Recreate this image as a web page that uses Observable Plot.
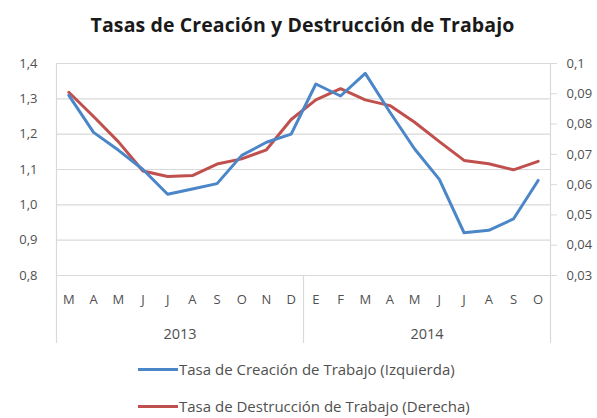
<!DOCTYPE html>
<html>
<head>
<meta charset="utf-8">
<script src="https://cdn.jsdelivr.net/npm/d3@7"></script>
<script src="https://cdn.jsdelivr.net/npm/@observablehq/plot@0.6"></script>
<style>
  body { margin: 0; background: #fff; font-family: "Open Sans", sans-serif; }
  #wrap { width: 597px; height: 418px; position: relative; overflow: hidden; }
  #title { height: 45px; line-height: 50px; text-align: center; font-weight: bold; font-size: 19.5px; color: #1a1a1a; padding-left: 8px; letter-spacing: 0.1px; }
  .leg { position: absolute; left: 138px; display: flex; align-items: center; font-size: 15px; color: #505050; }
  .sw { width: 40px; height: 3px; margin-right: 1px; }
</style>
</head>
<body>
<div id="wrap">
  <div id="title">Tasas de Creación y Destrucción de Trabajo</div>
  <div id="chart"></div>
  <div class="leg" id="leg1" style="top:359px"><div class="sw" style="background:#4a86c8"></div><span>Tasa de Creación de Trabajo (Izquierda)</span></div>
  <div class="leg" id="leg2" style="top:396px"><div class="sw" style="background:#c0504d"></div><span>Tasa de Destrucción de Trabajo (Derecha)</span></div>
</div>
<script>
const months = ["M","A","M","J","J","A","S","O","N","D","E","F","M","A","M","J","J","A","S","O"];
const years = ["2013", "2014"];
const creacion = [1.31, 1.205, 1.155, 1.10, 1.03, 1.045, 1.06, 1.14, 1.177, 1.20, 1.342, 1.308, 1.372, 1.262, 1.158, 1.072, 0.921, 0.928, 0.96, 1.069];
const destruccion = [0.0905, 0.0825, 0.0742, 0.0645, 0.0627, 0.063, 0.0668, 0.0685, 0.0715, 0.0815, 0.088, 0.0917, 0.088, 0.0861, 0.0806, 0.0742, 0.068, 0.0669, 0.0649, 0.0677];
const leftTicks = [0.8, 0.9, 1.0, 1.1, 1.2, 1.3, 1.4];
const rightTicks = [0.03, 0.04, 0.05, 0.06, 0.07, 0.08, 0.09, 0.1];

// map right-axis domain [0.03, 0.1] onto left-axis domain [0.8, 1.4]
const r2l = d3.scaleLinear().domain([0.03, 0.1]).range([0.8, 1.4]);
const comma = s => s.replace(".", ",");

const dataC = creacion.map((v, i) => ({i, v}));
const dataD = destruccion.map((v, i) => ({i, v: r2l(v)}));

const gray = "#505050";
const gridc = "#d9d9d9";

const chart = Plot.plot({
  width: 597,
  height: 310,
  marginTop: 18,
  marginBottom: 80,
  marginLeft: 56,
  marginRight: 47,
  style: {fontFamily: "Open Sans, sans-serif", fontSize: "12px", color: gray, background: "white"},
  x: {type: "linear", domain: [-0.5, months.length - 0.5]},
  y: {domain: [0.8, 1.4]},
  marks: [
    Plot.gridY(leftTicks, {stroke: gridc, strokeOpacity: 1, strokeWidth: 1.2}),
    Plot.ruleX([-0.5, months.length - 0.5], {stroke: gridc, strokeWidth: 1.2}),
    Plot.axisY(leftTicks, {anchor: "left", tickSize: 0, tickPadding: 19, tickFormat: d => comma(d3.format(".1f")(d)), fill: gray, fontSize: 13, label: null}),
    Plot.axisY(rightTicks.map(r2l), {anchor: "right", tickSize: 6, tickPadding: 10, stroke: gridc, tickFormat: d => comma(d3.format("~g")(+r2l.invert(d).toFixed(2))), fill: gray, fontSize: 13, label: null}),
    Plot.axisX(d3.range(months.length), {anchor: "bottom", tickSize: 0, tickPadding: 19, tickFormat: i => months[i], fill: gray, fontSize: 13, label: null}),
    Plot.axisX([-0.5, 9.5, months.length - 0.5], {anchor: "bottom", tickSize: 68, stroke: gridc, strokeWidth: 1.2, tickFormat: () => "", label: null}),
    Plot.axisX([4.5, 14.5], {anchor: "bottom", tickSize: 0, tickPadding: 53, tickFormat: (d, k) => years[k], fill: gray, fontSize: 14.5, label: null}),
    Plot.line(dataD, {x: "i", y: "v", stroke: "#c0504d", strokeWidth: 3, strokeLinejoin: "round"}),
    Plot.line(dataC, {x: "i", y: "v", stroke: "#4a86c8", strokeWidth: 3, strokeLinejoin: "round"})
  ]
});
document.getElementById("chart").appendChild(chart);
</script>
</body>
</html>
